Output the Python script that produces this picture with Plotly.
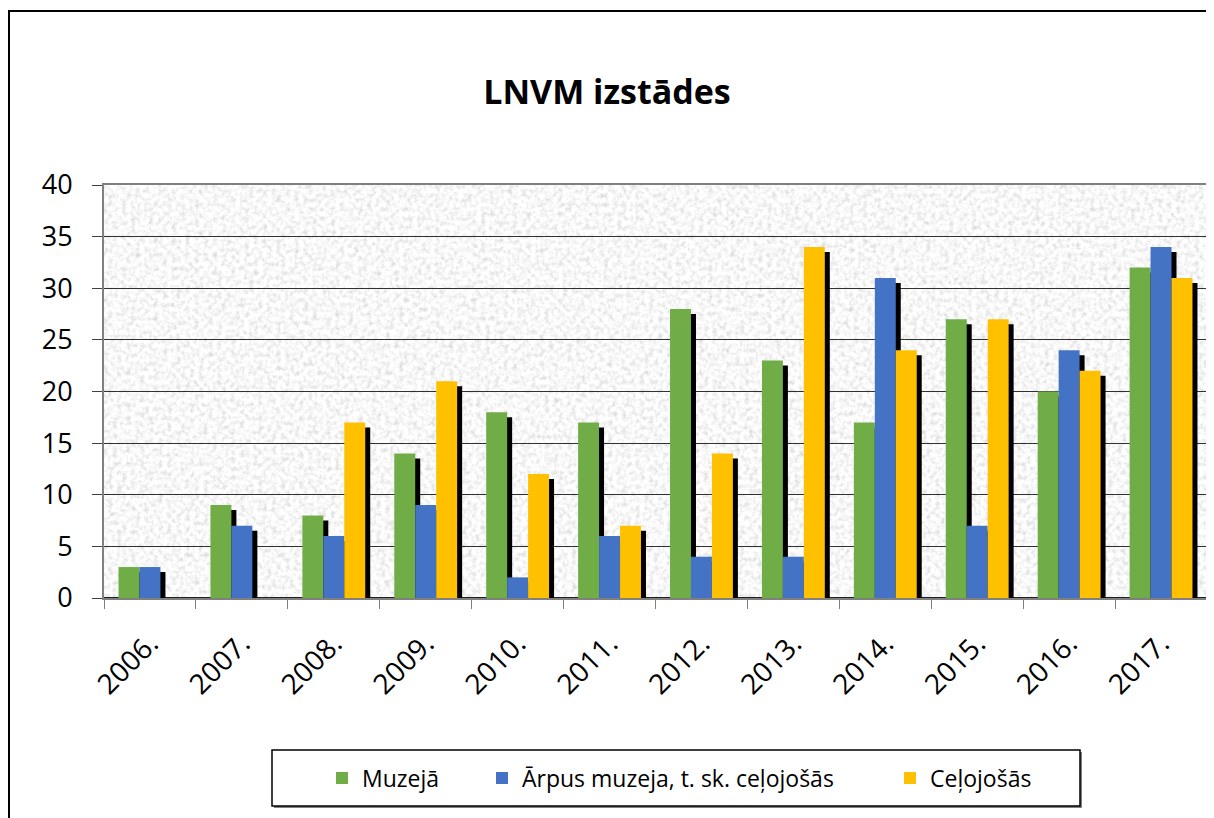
import base64
import plotly.graph_objects as go

years = ['2006.', '2007.', '2008.', '2009.', '2010.', '2011.',
         '2012.', '2013.', '2014.', '2015.', '2016.', '2017.']
muzeja = [3, 9, 8, 14, 18, 17, 28, 23, 17, 27, 20, 32]
arpus = [3, 7, 6, 9, 2, 6, 4, 4, 31, 7, 24, 34]
celojosas = [0, 0, 17, 21, 12, 7, 14, 34, 24, 27, 22, 31]

series = [
    ('Muzejā', muzeja, '#70AD47'),
    ('Ārpus muzeja, t. sk. ceļojošās', arpus, '#4472C4'),
    ('Ceļojošās', celojosas, '#FFC000'),
]

W, H = 1214, 818
OFF = 8  # page body margin
L, T = 104 - OFF, 185 - OFF
R, B = W - (1207 - OFF), H - (598 - OFF)
pw, ph = W - L - R, H - T - B
FONT = 'Open Sans'


def px2x(px):
    return (px - OFF - L) / pw


def py2y(py):
    return (H - B - (py - OFF)) / ph


bar_w = 0.228
shadow_dx = 5 / (pw / len(years))      # 5 px right, in category units
shadow_dy = 5 * 40 / ph                # 5 px down, in data units

# grainy grey plot background (svg noise)
noise_svg = (
    f'<svg xmlns="http://www.w3.org/2000/svg" width="{pw}" height="{ph}">'
    '<filter id="n" x="0" y="0" width="100%" height="100%">'
    '<feTurbulence type="fractalNoise" baseFrequency="0.22" numOctaves="3" seed="7"/>'
    '<feColorMatrix type="saturate" values="0"/>'
    '<feComponentTransfer>'
    '<feFuncR type="linear" slope="0.8" intercept="0.54"/>'
    '<feFuncG type="linear" slope="0.8" intercept="0.54"/>'
    '<feFuncB type="linear" slope="0.8" intercept="0.54"/>'
    '<feFuncA type="linear" slope="0" intercept="1"/>'
    '</feComponentTransfer>'
    '</filter>'
    '<rect width="100%" height="100%" filter="url(#n)"/>'
    '</svg>'
)
noise_src = 'data:image/svg+xml;base64,' + base64.b64encode(noise_svg.encode()).decode()

fig = go.Figure()

# drop shadows first so the bars sit on top
for i, (name, vals, color) in enumerate(series):
    fig.add_trace(go.Bar(
        x=years, y=vals, base=-shadow_dy,
        width=bar_w, offset=-1.5 * bar_w + i * bar_w + shadow_dx,
        marker=dict(color='black', line=dict(width=0)),
        showlegend=False, hoverinfo='skip'))

legend_x = [342, 502, 910]
for i, (name, vals, color) in enumerate(series):
    fig.add_trace(go.Bar(
        x=years, y=vals, name=name,
        width=bar_w, offset=-1.5 * bar_w + i * bar_w,
        marker=dict(color=color, line=dict(width=0)),
        legend='legend' if i == 0 else f'legend{i + 1}'))

legends = {}
for i, cx in enumerate(legend_x):
    key = 'legend' if i == 0 else f'legend{i + 1}'
    legends[key] = dict(
        x=px2x(cx - 20), xanchor='left', y=py2y(778), yanchor='middle',
        orientation='h', bgcolor='rgba(0,0,0,0)', borderwidth=0,
        font=dict(family=FONT, size=23, color='black'))

fig.update_layout(
    width=W, height=H,
    margin=dict(l=L, r=R, t=T, b=B),
    barmode='overlay',
    paper_bgcolor='white',
    plot_bgcolor='rgba(0,0,0,0)',
    title=dict(text='<b>LNVM izstādes</b>', x=(607 - OFF) / W, xanchor='center',
               y=1 - (92 - OFF) / H, yanchor='middle',
               font=dict(family=FONT, size=34, color='black')),
    font=dict(family=FONT, color='black'),
    **legends,
    images=[dict(source=noise_src, xref='paper', yref='paper', x=0, y=1,
                 sizex=1, sizey=1, sizing='stretch', layer='below',
                 xanchor='left', yanchor='top')],
    shapes=[
        # outer chart frame
        dict(type='rect', xref='paper', yref='paper', layer='below',
             x0=px2x(OFF + 1), x1=px2x(1222), y0=py2y(834), y1=py2y(11),
             line=dict(color='black', width=2), fillcolor='rgba(0,0,0,0)'),
        # legend box shadow and box
        dict(type='rect', xref='paper', yref='paper', layer='below',
             x0=px2x(274), x1=px2x(1082), y0=py2y(808), y1=py2y(752),
             line=dict(width=0), fillcolor='#808080'),
        dict(type='rect', xref='paper', yref='paper', layer='below',
             x0=px2x(272), x1=px2x(1080), y0=py2y(806), y1=py2y(750),
             line=dict(color='black', width=1.5), fillcolor='white'),
    ],
)

fig.update_xaxes(
    type='category', range=[-0.5, len(years) - 0.5],
    tickangle=-45, tickfont=dict(family=FONT, size=28, color='black'),
    ticks='outside', tickson='boundaries', ticklen=9, tickcolor='#808080',
    ticklabelstandoff=16,
    showline=True, linecolor='#808080', linewidth=2, mirror=True,
    showgrid=False)

fig.update_yaxes(
    range=[0, 40], dtick=5,
    tickfont=dict(family=FONT, size=27, color='black'),
    ticks='outside', ticklen=10, tickcolor='#404040', ticklabelstandoff=14,
    showline=True, linecolor='#808080', linewidth=2, mirror=True,
    showgrid=True, gridcolor='#303030', gridwidth=1,
    zeroline=True, zerolinecolor='#202020', zerolinewidth=1.5)

fig.write_html('out.html')
